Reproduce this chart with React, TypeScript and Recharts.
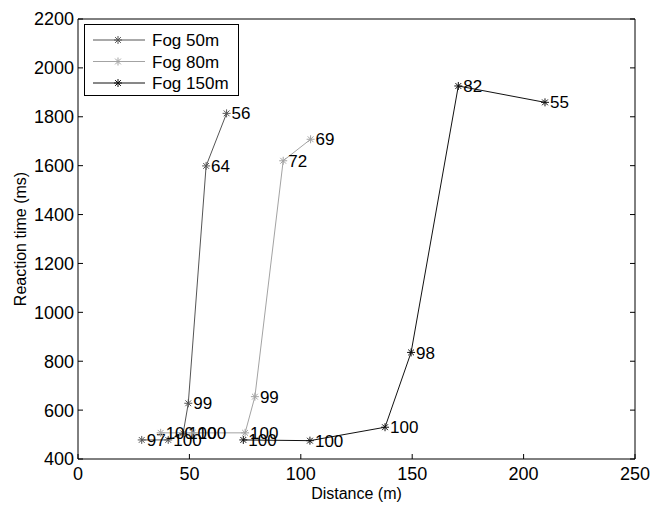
import { Legend, Line, LineChart, XAxis, YAxis } from 'recharts'

const X_TICKS = [0, 50, 100, 150, 200, 250]
const Y_TICKS = [400, 600, 800, 1000, 1200, 1400, 1600, 1800, 2000, 2200]

// distance (m), reaction time (ms) and the accuracy label drawn next to each point
const fog50Distance = [28.6, 40.5, 47.2, 49.5, 57.5, 66.7]
const fog50Time = [478, 478, 505, 628, 1599, 1814]
const fog50Accuracy = [97, 100, 100, 99, 64, 56]

const fog80Distance = [37.1, 51.5, 75, 79.4, 92.1, 104.4]
const fog80Time = [507, 507, 507, 655, 1620, 1708]
const fog80Accuracy = [100, 100, 100, 99, 72, 69]

const fog150Distance = [74.2, 104.1, 137.8, 149.5, 170.7, 209.6]
const fog150Time = [478, 475, 530, 836, 1926, 1859]
const fog150Accuracy = [100, 100, 100, 98, 82, 55]

const FONT = '"Liberation Sans", Arial, sans-serif'

type Row = { distance: number; time: number; acc: number }

function toRows(d: number[], t: number[], a: number[]): Row[] {
  return d.map((distance, i) => ({ distance, time: t[i], acc: a[i] }))
}

const SERIES = [
  { key: 'fog50', name: 'Fog 50m', color: '#555555', rows: toRows(fog50Distance, fog50Time, fog50Accuracy) },
  { key: 'fog80', name: 'Fog 80m', color: '#a3a3a3', rows: toRows(fog80Distance, fog80Time, fog80Accuracy) },
  { key: 'fog150', name: 'Fog 150m', color: '#111111', rows: toRows(fog150Distance, fog150Time, fog150Accuracy) },
]

function Star({ cx, cy, color }: { cx: number; cy: number; color: string }) {
  const r = 4
  const d = 2.9
  return (
    <g stroke={color} strokeWidth={1}>
      <line x1={cx - r} y1={cy} x2={cx + r} y2={cy} />
      <line x1={cx} y1={cy - r} x2={cx} y2={cy + r} />
      <line x1={cx - d} y1={cy - d} x2={cx + d} y2={cy + d} />
      <line x1={cx - d} y1={cy + d} x2={cx + d} y2={cy - d} />
    </g>
  )
}

function makeDot(color: string) {
  return (props: any) => {
    const { cx, cy, payload, index } = props
    return (
      <g key={index}>
        <Star cx={cx} cy={cy} color={color} />
        <text x={cx + 5} y={cy} dy="0.36em" fontSize={17} fill="#000" fontFamily={FONT}>
          {payload.acc}
        </text>
      </g>
    )
  }
}

function BottomTick({ x, y, payload }: any) {
  return (
    <g>
      <line x1={x} x2={x} y1={y} y2={y - 5} stroke="#000" />
      <text x={x} y={y + 21} textAnchor="middle" fontSize={18} fill="#000" fontFamily={FONT}>
        {payload.value}
      </text>
    </g>
  )
}

function LeftTick({ x, y, payload }: any) {
  return (
    <g>
      <line x1={x} x2={x + 5} y1={y} y2={y} stroke="#000" />
      <text x={x - 4} y={y} dy="0.36em" textAnchor="end" fontSize={18} fill="#000" fontFamily={FONT}>
        {payload.value}
      </text>
    </g>
  )
}

function TopTick({ x, y }: any) {
  return <line x1={x} x2={x} y1={y} y2={y + 5} stroke="#000" />
}

function RightTick({ x, y }: any) {
  return <line x1={x} x2={x - 5} y1={y} y2={y} stroke="#000" />
}

function LegendBox() {
  return (
    <svg width={155} height={72} style={{ display: 'block' }}>
      <rect x={0.5} y={0.5} width={154} height={71} fill="#fff" stroke="#000" />
      {SERIES.map((s, i) => {
        const cy = 16 + i * 21.5
        return (
          <g key={s.key}>
            <line x1={9} x2={61} y1={cy} y2={cy} stroke={s.color} />
            <Star cx={34} cy={cy} color={s.color} />
            <text x={68} y={cy} dy="0.36em" fontSize={17} fill="#000" fontFamily={FONT}>
              {s.name}
            </text>
          </g>
        )
      })}
    </svg>
  )
}

export default function App() {
  return (
    <div style={{ position: 'absolute', left: 0, top: 0, background: '#fff' }}>
      <LineChart
        width={651}
        height={505}
        margin={{ top: 18, right: 15, bottom: 16, left: 18 }}
        style={{ fontFamily: FONT }}
      >
        <XAxis
          type="number"
          dataKey="distance"
          domain={[0, 250]}
          ticks={X_TICKS}
          interval={0}
          allowDataOverflow
          height={30}
          tickSize={0}
          tickMargin={0}
          tickLine={false}
          axisLine={{ stroke: '#000' }}
          tick={<BottomTick />}
          label={{ value: 'Distance (m)', position: 'insideBottom', offset: -10, fontSize: 16, fill: '#000' }}
        />
        <XAxis
          xAxisId="top"
          orientation="top"
          type="number"
          domain={[0, 250]}
          ticks={X_TICKS}
          interval={0}
          allowDataOverflow
          height={1}
          tickSize={0}
          tickMargin={0}
          tickLine={false}
          axisLine={{ stroke: '#000' }}
          tick={<TopTick />}
        />
        <YAxis
          type="number"
          domain={[400, 2200]}
          ticks={Y_TICKS}
          interval={0}
          allowDataOverflow
          width={60}
          tickSize={0}
          tickMargin={0}
          tickLine={false}
          axisLine={{ stroke: '#000' }}
          tick={<LeftTick />}
          label={{
            content: ({ viewBox }: any) => {
              const cx = viewBox.x + 2
              const cy = viewBox.y + viewBox.height / 2
              return (
                <text
                  x={cx}
                  y={cy}
                  dy="0.36em"
                  textAnchor="middle"
                  fontSize={16}
                  fill="#000"
                  fontFamily={FONT}
                  transform={`rotate(-90 ${cx} ${cy})`}
                >
                  Reaction time (ms)
                </text>
              )
            },
          }}
        />
        <YAxis
          yAxisId="right"
          orientation="right"
          type="number"
          domain={[400, 2200]}
          ticks={Y_TICKS}
          interval={0}
          allowDataOverflow
          width={1}
          tickSize={0}
          tickMargin={0}
          tickLine={false}
          axisLine={{ stroke: '#000' }}
          tick={<RightTick />}
        />
        <Legend
          layout="vertical"
          align="center"
          verticalAlign="middle"
          wrapperStyle={{ left: 84, top: 24, width: 155, height: 72 }}
          content={() => <LegendBox />}
        />
        {SERIES.map((s) => (
          <Line
            key={s.key}
            name={s.name}
            data={s.rows}
            dataKey="time"
            stroke={s.color}
            strokeWidth={1}
            dot={makeDot(s.color)}
            activeDot={false}
            isAnimationActive={false}
          />
        ))}
      </LineChart>
    </div>
  )
}
